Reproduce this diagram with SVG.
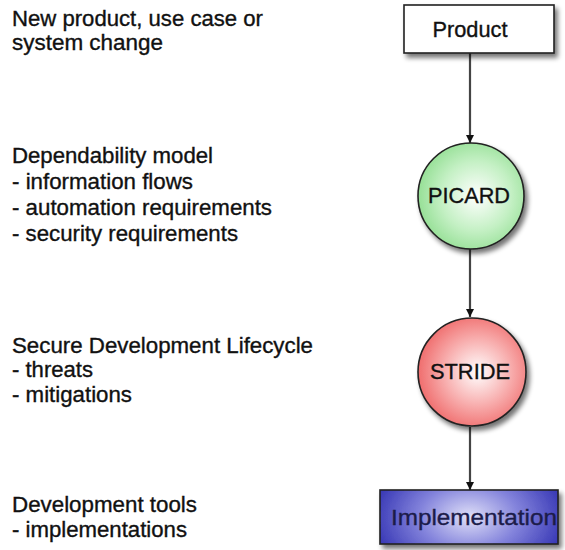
<svg xmlns="http://www.w3.org/2000/svg" width="565" height="550" viewBox="0 0 565 550">
  <style>
    .lbl { font-family: "Liberation Sans", Arial, sans-serif; font-size: 21.5px; fill: #111; stroke: #111; stroke-width: 0.35; }
    .node-text { font-family: "Liberation Sans", Arial, sans-serif; font-size: 22px; fill: #111; stroke: #111; stroke-width: 0.35; text-anchor: middle; }
    .edge { stroke: #444; stroke-width: 2.2; fill: none; marker-end: url(#arrow); }
    .outline { stroke: #222; stroke-width: 1.6; }
  </style>
  <defs>
    <marker id="arrow" viewBox="0 0 10 10" refX="10" refY="5" markerWidth="3.8" markerHeight="3.8" orient="auto" markerUnits="strokeWidth">
      <path d="M0,0 L10,5 L0,10 z" fill="#111"/>
    </marker>
    <filter id="shadow" x="-20%" y="-20%" width="150%" height="150%">
      <feGaussianBlur in="SourceAlpha" stdDeviation="2.5"/>
      <feOffset dx="3" dy="4" result="b"/>
      <feComponentTransfer><feFuncA type="linear" slope="0.55"/></feComponentTransfer>
      <feMerge><feMergeNode/><feMergeNode in="SourceGraphic"/></feMerge>
    </filter>
    <radialGradient id="gGreen" cx="0.55" cy="0.5" r="0.6">
      <stop offset="0" stop-color="#ffffff"/>
      <stop offset="0.55" stop-color="#c4f0c4"/>
      <stop offset="1" stop-color="#8cdc8c"/>
    </radialGradient>
    <radialGradient id="gRed" cx="0.55" cy="0.5" r="0.6">
      <stop offset="0" stop-color="#ffffff"/>
      <stop offset="0.5" stop-color="#f8b0b0"/>
      <stop offset="1" stop-color="#ee6060"/>
    </radialGradient>
    <radialGradient id="gBlue" cx="0.5" cy="0.5" r="0.55" gradientTransform="translate(0.5 0.5) scale(1 2.2) translate(-0.5 -0.5)">
      <stop offset="0" stop-color="#e0e0f8"/>
      <stop offset="0.5" stop-color="#8484dc"/>
      <stop offset="1" stop-color="#3636b4"/>
    </radialGradient>
  </defs>

  <g id="labels">
    <text class="lbl" x="12" y="26" textLength="251" lengthAdjust="spacingAndGlyphs">New product, use case or</text>
    <text class="lbl" x="12" y="50" textLength="151" lengthAdjust="spacingAndGlyphs">system change</text>

    <text class="lbl" x="12" y="163" textLength="201" lengthAdjust="spacingAndGlyphs">Dependability model</text>
    <text class="lbl" x="12" y="189" textLength="181" lengthAdjust="spacingAndGlyphs">- information flows</text>
    <text class="lbl" x="12" y="215" textLength="260" lengthAdjust="spacingAndGlyphs">- automation requirements</text>
    <text class="lbl" x="12" y="241" textLength="226" lengthAdjust="spacingAndGlyphs">- security requirements</text>

    <text class="lbl" x="12" y="353" textLength="301" lengthAdjust="spacingAndGlyphs">Secure Development Lifecycle</text>
    <text class="lbl" x="12" y="377" textLength="81" lengthAdjust="spacingAndGlyphs">- threats</text>
    <text class="lbl" x="12" y="402" textLength="120" lengthAdjust="spacingAndGlyphs">- mitigations</text>

    <text class="lbl" x="12" y="512" textLength="185" lengthAdjust="spacingAndGlyphs">Development tools</text>
    <text class="lbl" x="12" y="537" textLength="175" lengthAdjust="spacingAndGlyphs">- implementations</text>
  </g>

  <g id="connectors">
    <line class="edge" x1="470" y1="53" x2="470" y2="143"/>
    <line class="edge" x1="470" y1="249" x2="470" y2="317"/>
    <line class="edge" x1="470" y1="427" x2="470" y2="490"/>
  </g>

  <g id="product">
    <rect x="404" y="5" width="150" height="48" fill="#ffffff" class="outline" filter="url(#shadow)"/>
    <text class="node-text" x="470" y="37" textLength="75" lengthAdjust="spacingAndGlyphs">Product</text>
  </g>

  <g id="picard">
    <circle cx="471" cy="196" r="53" fill="url(#gGreen)" class="outline" filter="url(#shadow)"/>
    <text class="node-text" x="469" y="203" textLength="82" lengthAdjust="spacingAndGlyphs">PICARD</text>
  </g>

  <g id="stride">
    <circle cx="472" cy="372" r="54" fill="url(#gRed)" class="outline" filter="url(#shadow)"/>
    <text class="node-text" x="470" y="379" textLength="80" lengthAdjust="spacingAndGlyphs">STRIDE</text>
  </g>

  <g id="implementation">
    <rect x="380" y="490" width="178" height="54" fill="url(#gBlue)" class="outline" filter="url(#shadow)"/>
    <text class="node-text" x="474" y="525" textLength="166" lengthAdjust="spacingAndGlyphs" style="fill:#1c1c4a;stroke:#1c1c4a">Implementation</text>
  </g>
</svg>
